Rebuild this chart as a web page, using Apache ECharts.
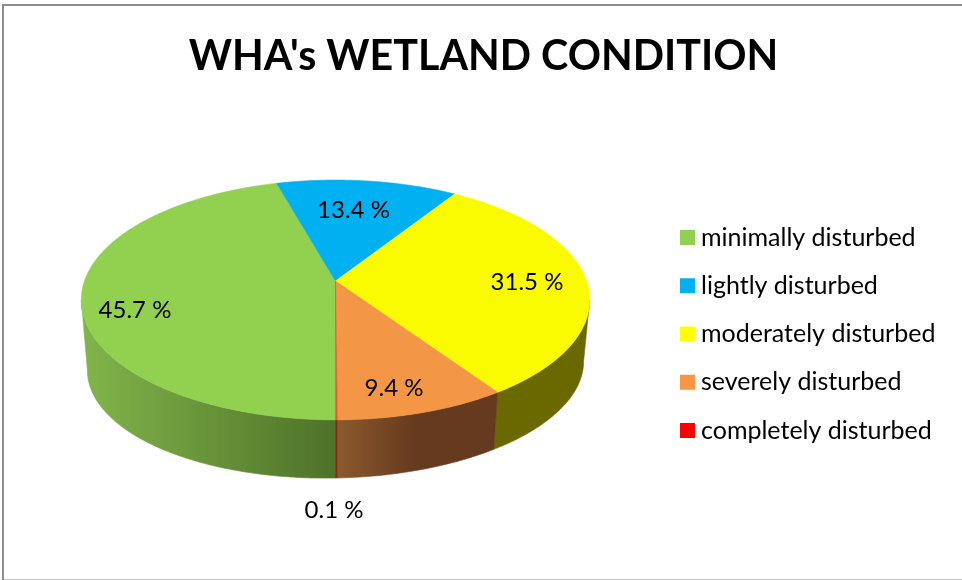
<!DOCTYPE html>
<html>
<head>
<meta charset="utf-8">
<style>html,body{margin:0;padding:0;background:#fff}#c{width:962px;height:580px}</style>
<script src="https://cdn.jsdelivr.net/npm/echarts@6/dist/echarts.min.js"></script>
</head>
<body>
<div id="c"></div>
<script>
var categories = ['minimally disturbed','lightly disturbed','moderately disturbed','severely disturbed','completely disturbed'];
var values = [45.7,13.4,31.5,9.4,0.1];
var labels = ['45.7 %','13.4 %','31.5 %','9.4 %','0.1 %'];
var title = "WHA's WETLAND CONDITION";

var topColors = ['#92D050','#00B0F0','#FAFA00','#F39645','#F0562F'];
var legendColors = ['#92D050','#00B0F0','#FFFF00','#F79646','#FF0000'];
var sideStops = [
  [[0,'#80B349'],[1,'#4E7229']],
  [[0,'#006C94'],[1,'#006C94']],
  [[0,'#696900'],[1,'#696900']],
  [[0,'#8C5A2E'],[0.5,'#653A1E'],[1,'#653A1E']],
  [[0,'#8A2A16'],[1,'#8A2A16']]
];
var sideRange = [[87,336],[280,455],[495,586],[336,495],[334,337]];
var labelAnchors = [[135,310],[353.5,210],[527,282],[394,388],[334,510]];

var FONT = 'Lato';
var total = values.reduce(function(a,b){return a+b;},0);
var startDeg = 180;

// Perspective projection of the pie's disc: top plane and bottom plane.
var persp = -0.158, cx = 335.5;
var topPlane = {a:251, A:281, B:72.5, shear:0};
var lowPlane = {a:245, A:348, B:54.5, shear:-0.018};
// part of the rim that faces the viewer, degrees clockwise from the back
var visibleRim = [99,261];
function project(plane, deg, r){
  var t = deg*Math.PI/180, u = Math.sin(t)*r, v = -Math.cos(t)*r, d = 1+persp*v;
  var dx = plane.a*u/d;
  return [cx+dx, (plane.A+plane.B*v)/d + plane.shear*dx];
}
function arc(plane, a0, a1){
  var n = Math.max(2, Math.ceil((a1-a0)*2)), pts = [];
  for (var i=0;i<=n;i++) pts.push(project(plane, a0+(a1-a0)*i/n, 1));
  return pts;
}
function span(idx){
  var before = 0;
  for (var i=0;i<idx;i++) before += values[i];
  return [startDeg+before/total*360, startDeg+(before+values[idx])/total*360];
}
function visiblePart(s){
  for (var k=0;k<=360;k+=360){
    var lo = Math.max(s[0],visibleRim[0]+k), hi = Math.min(s[1],visibleRim[1]+k);
    if (lo<hi) return [lo,hi];
  }
  return null;
}

var series = [];
// side walls drawn below the top faces
series.push({
  type:'custom', name:'sides', coordinateSystem:'none', silent:true, z:1,
  data: values.map(function(v,i){return [i,v];}),
  renderItem:function(params, api){
    var i = api.value(0), s = visiblePart(span(i));
    if (!s) return null;
    var pts = arc(topPlane,s[0],s[1]).concat(arc(lowPlane,s[0],s[1]).reverse());
    var fill = new echarts.graphic.LinearGradient(sideRange[i][0],0,sideRange[i][1],0,
        sideStops[i].map(function(p){return {offset:p[0],color:p[1]};}), true);
    return {type:'polygon', shape:{points:pts}, style:{fill:fill, stroke:fill, lineWidth:0.6}};
  }
});
// top faces, one named series for each category
categories.forEach(function(name,i){
  series.push({
    type:'custom', name:name, coordinateSystem:'none', z:2, silent:true,
    itemStyle:{color:legendColors[i]},
    data:[[i,values[i]]],
    renderItem:function(params, api){
      var k = api.value(0), s = span(k);
      var pts = [project(topPlane,0,0)].concat(arc(topPlane,s[0],s[1]));
      return {type:'polygon', shape:{points:pts}, style:{fill:topColors[k], stroke:topColors[k], lineWidth:0.6}};
    }
  });
});
// data labels
series.push({
  type:'custom', name:'labels', coordinateSystem:'none', silent:true, z:3,
  data: labels.map(function(l,i){return [i];}),
  renderItem:function(params, api){
    var i = api.value(0);
    return {type:'text', x:labelAnchors[i][0], y:labelAnchors[i][1],
      style:{text:labels[i], fill:'#000', font:'24px '+FONT, align:'center', verticalAlign:'middle'}};
  }
});

var chart = echarts.init(document.getElementById('c'), null, {renderer:'canvas'});
chart.setOption({
  animation:false,
  backgroundColor:'#fff',
  title:{text:title, left:478.5, top:31, textAlign:'center',
    textStyle:{fontFamily:FONT, fontWeight:'bold', fontSize:41.2, color:'#000'}},
  tooltip:{show:false},
  legend:{
    orient:'vertical', left:680, top:225, padding:0, itemWidth:15, itemHeight:15, itemGap:23.25, icon:'rect',
    selectedMode:false,
    data:categories,
    textStyle:{fontFamily:FONT, fontSize:25, color:'#000', padding:[0,0,0,1], lineHeight:24}
  },
  graphic:[
    {type:'line', shape:{x1:2,y1:5,x2:962,y2:5}, style:{stroke:'#8c8c8c',lineWidth:2}, silent:true},
    {type:'line', shape:{x1:3,y1:4,x2:3,y2:580}, style:{stroke:'#8c8c8c',lineWidth:2}, silent:true},
    {type:'line', shape:{x1:4,y1:579.5,x2:962,y2:579.5}, style:{stroke:'#c8c8c8',lineWidth:1}, silent:true}
  ],
  series:series
});
</script>
</body>
</html>
